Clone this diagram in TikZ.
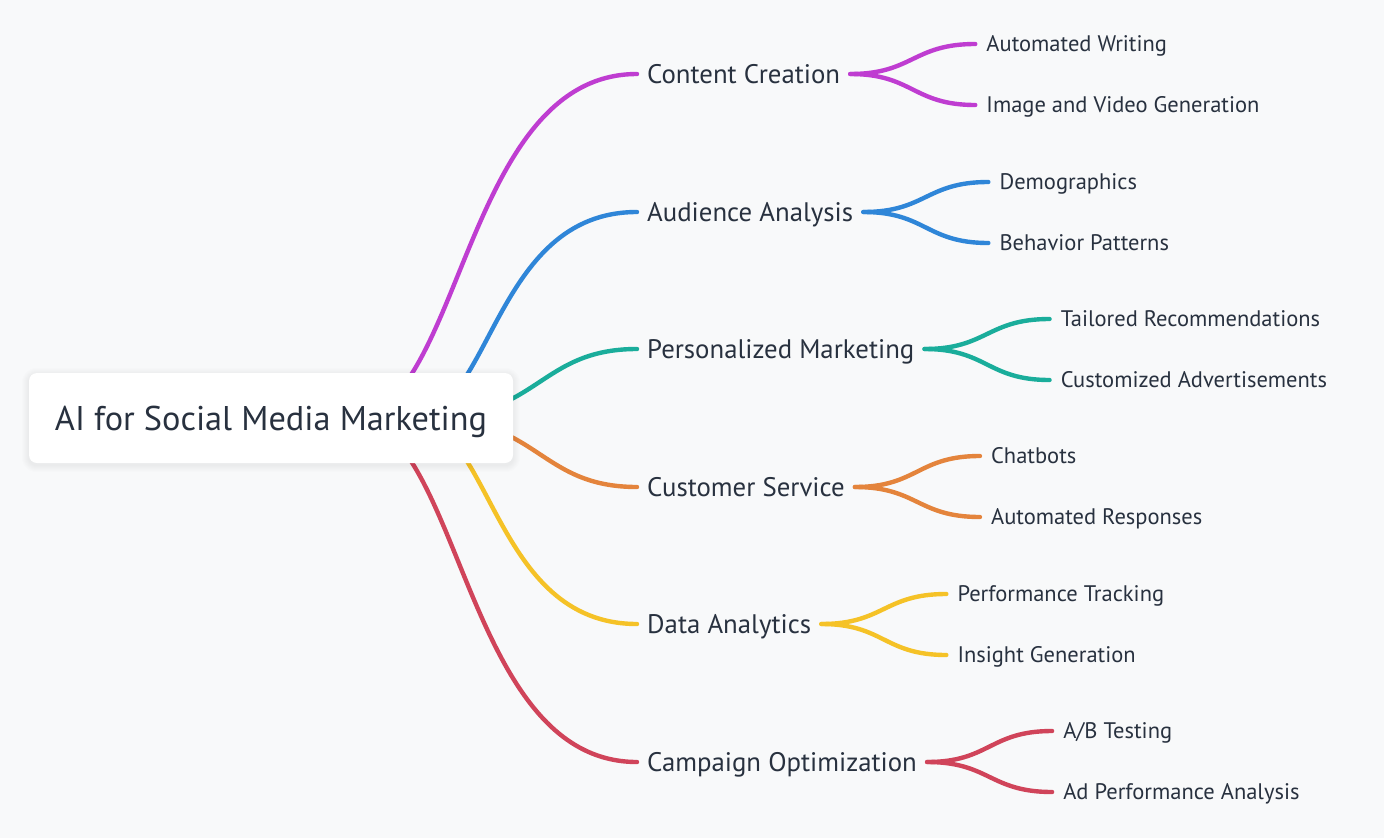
\documentclass[tikz,border=0pt]{standalone}
\usepackage{fontspec}
\setmainfont{PT Sans}
\usetikzlibrary{calc}
\definecolor{bgc}{HTML}{F8F9FA}
\definecolor{ink}{HTML}{28313F}
\definecolor{cmag}{HTML}{BF3DD1}
\definecolor{cblue}{HTML}{2F86D8}
\definecolor{cteal}{HTML}{1AAD9B}
\definecolor{corange}{HTML}{E4843C}
\definecolor{cyellow}{HTML}{F5C227}
\definecolor{cred}{HTML}{D0445A}
\pgfdeclarelayer{back}
\pgfsetlayers{back,main}
\tikzset{
  rootbox/.style={fill=white, rounded corners=8pt, minimum width=484pt, minimum height=90pt,
    inner sep=0pt, text=ink, font=\fontsize{34.3}{40}\selectfont, text height=24pt, text depth=0pt},
  lvlone/.style={anchor=west, inner xsep=10pt, inner ysep=0pt, text=ink,
    font=\fontsize{26.8}{32}\selectfont, text height=18.8pt, text depth=0pt},
  lvltwo/.style={anchor=west, inner xsep=11pt, inner ysep=0pt, text=ink,
    font=\fontsize{22.5}{27}\selectfont, text height=15.75pt, text depth=0pt},
  link/.style={line width=4.4pt, line cap=round},
}
\begin{document}
\begin{tikzpicture}[x=1pt,y=-1pt]
\begin{pgfonlayer}{back}
\fill[bgc] (0,0) rectangle (1384,838);
\end{pgfonlayer}
\useasboundingbox (0,0) rectangle (1384,838);

\node[rootbox] (root) at (271,418) {AI for Social Media Marketing};

\node[lvlone] (c1) at (637,74) {Content Creation};
\node[lvlone] (c2) at (637,212) {Audience Analysis};
\node[lvlone] (c3) at (637,349) {Personalized Marketing};
\node[lvlone] (c4) at (637,487) {Customer Service};
\node[lvlone] (c5) at (637,624) {Data Analytics};
\node[lvlone] (c6) at (637,762) {Campaign Optimization};

\node[lvltwo] (g11) at ($(c1.east)+(125,-30)$) {Automated Writing};
\node[lvltwo] (g12) at ($(c1.east)+(125,31)$) {Image and Video Generation};
\node[lvltwo] (g21) at ($(c2.east)+(125,-30)$) {Demographics};
\node[lvltwo] (g22) at ($(c2.east)+(125,31)$) {Behavior Patterns};
\node[lvltwo] (g31) at ($(c3.east)+(125,-30)$) {Tailored Recommendations};
\node[lvltwo] (g32) at ($(c3.east)+(125,31)$) {Customized Advertisements};
\node[lvltwo] (g41) at ($(c4.east)+(125,-31)$) {Chatbots};
\node[lvltwo] (g42) at ($(c4.east)+(125,30)$) {Automated Responses};
\node[lvltwo] (g51) at ($(c5.east)+(125,-30)$) {Performance Tracking};
\node[lvltwo] (g52) at ($(c5.east)+(125,31)$) {Insight Generation};
\node[lvltwo] (g61) at ($(c6.east)+(125,-31)$) {A/B Testing};
\node[lvltwo] (g62) at ($(c6.east)+(125,30)$) {Ad Performance Analysis};

\begin{pgfonlayer}{back}
% root to first level
\draw[link,cmag] ($(root.center)+(79,0)$) .. controls ($(root.center)+(191,0)$) and ($(c1.west)+(-175,0)$) .. (c1.west);
\draw[link,cblue] ($(root.center)+(139,0)$) .. controls ($(root.center)+(221,0)$) and ($(c2.west)+(-145,0)$) .. (c2.west);
\draw[link,cteal] ($(root.center)+(156,0)$) .. controls ($(root.center)+(268,0)$) and ($(c3.west)+(-98,0)$) .. (c3.west);
\draw[link,corange] ($(root.center)+(156,0)$) .. controls ($(root.center)+(268,0)$) and ($(c4.west)+(-98,0)$) .. (c4.west);
\draw[link,cyellow] ($(root.center)+(139,0)$) .. controls ($(root.center)+(221,0)$) and ($(c5.west)+(-145,0)$) .. (c5.west);
\draw[link,cred] ($(root.center)+(79,0)$) .. controls ($(root.center)+(191,0)$) and ($(c6.west)+(-175,0)$) .. (c6.west);
% first to second level
\foreach \c/\a/\b/\col in {c1/g11/g12/cmag, c2/g21/g22/cblue, c3/g31/g32/cteal, c4/g41/g42/corange, c5/g51/g52/cyellow, c6/g61/g62/cred}{
  \draw[link,\col] (\c.east) .. controls ($(\c.east)+(62.5,0)$) and ($(\a.west)+(-62.5,0)$) .. (\a.west);
  \draw[link,\col] (\c.east) .. controls ($(\c.east)+(62.5,0)$) and ($(\b.west)+(-62.5,0)$) .. (\b.west);
}
% soft shadow of the root box
\foreach \i in {1,...,7}{
  \fill[black, opacity=0.006, rounded corners=8pt+\i pt]
    ($(root.south west)+(-\i,\i+2)$) rectangle ($(root.north east)+(\i,-\i+2)$);
}
\end{pgfonlayer}
\end{tikzpicture}
\end{document}
